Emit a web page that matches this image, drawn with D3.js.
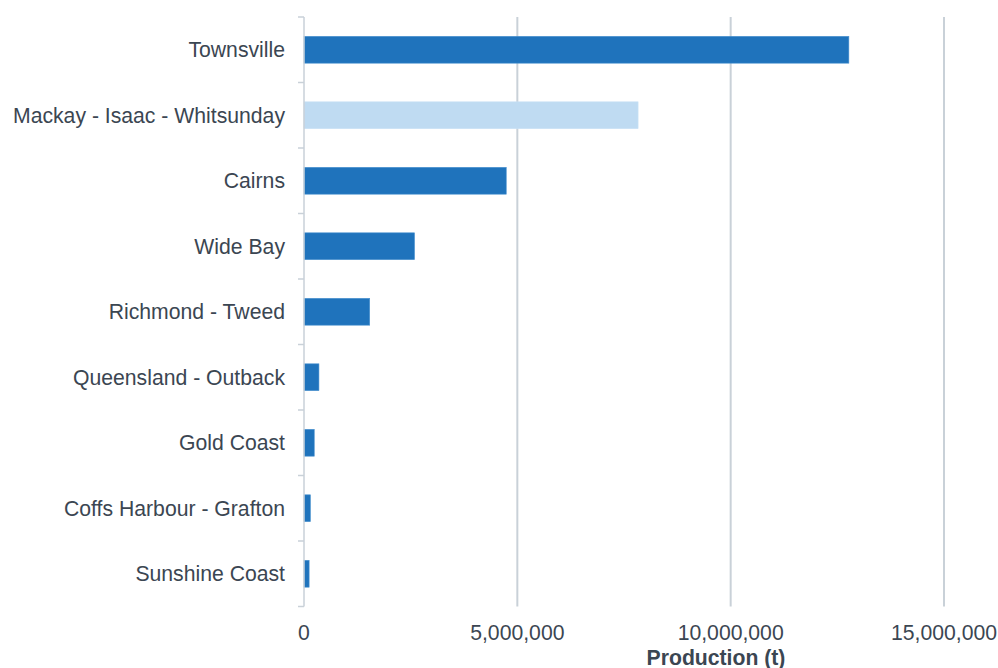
<!DOCTYPE html>
<html>
<head>
<meta charset="utf-8">
<script src="https://cdn.jsdelivr.net/npm/d3@7"></script>
<style>
  body { margin: 0; background: #ffffff; }
  svg { display: block; font-family: "Liberation Sans", Arial, sans-serif; }
</style>
</head>
<body>
<svg id="chart" width="998" height="668"></svg>
<script>
const categories = ["Townsville", "Mackay - Isaac - Whitsunday", "Cairns", "Wide Bay", "Richmond - Tweed",
  "Queensland - Outback", "Gold Coast", "Coffs Harbour - Grafton", "Sunshine Coast"];
const production = [12770000, 7830000, 4740000, 2590000, 1540000, 350000, 240000, 150000, 120000];
const highlighted = ["Mackay - Isaac - Whitsunday"];
const xTicks = [0, 5000000, 10000000, 15000000];
const xTitle = "Production (t)";

(function () {
const svg = d3.select("#chart");
const mLeft = 304, mRight = 944, mTop = 17, mBottom = 606.5;
const textColor = "#3b4652";
const gridColor = "#c9d1d8";
const fs = 21.2;

const x = d3.scaleLinear().domain([0, 15000000]).range([mLeft, mRight]);
const y = d3.scaleBand().domain(categories).range([mTop, mBottom]).paddingInner(0.59).paddingOuter(0.295);

// gridlines
svg.append("g").selectAll("line").data(xTicks.filter(d => d > 0)).join("line")
  .attr("x1", d => x(d)).attr("x2", d => x(d))
  .attr("y1", mTop).attr("y2", mBottom)
  .attr("stroke", gridColor).attr("stroke-width", 2);

// bars
const data = categories.map((c, i) => ({ c, v: production[i] }));
svg.append("g").selectAll("rect").data(data).join("rect")
  .attr("x", x(0))
  .attr("y", d => y(d.c))
  .attr("width", d => x(d.v) - x(0))
  .attr("height", y.bandwidth())
  .attr("fill", d => highlighted.includes(d.c) ? "#bfdbf2" : "#1f73bc")
  .attr("stroke", d => highlighted.includes(d.c) ? "#c9e1f5" : "#4a92d0")
  .attr("stroke-width", 0.6);

// y axis line and band ticks
const yAxis = svg.append("g");
yAxis.append("line").attr("x1", mLeft).attr("x2", mLeft).attr("y1", mTop).attr("y2", mBottom)
  .attr("stroke", gridColor).attr("stroke-width", 1.5);
const boundaries = categories.map(c => y(c) - y.step() * y.paddingOuter()).concat([mBottom]);
yAxis.selectAll("line.tick").data(boundaries).join("line").attr("class", "tick")
  .attr("x1", mLeft - 6).attr("x2", mLeft).attr("y1", d => d).attr("y2", d => d)
  .attr("stroke", gridColor).attr("stroke-width", 1.5);

// category labels
svg.append("g").selectAll("text").data(categories).join("text")
  .attr("x", 285)
  .attr("y", d => y(d) + y.bandwidth() / 2)
  .attr("dy", "0.35em")
  .attr("text-anchor", "end")
  .attr("fill", textColor)
  .attr("font-size", fs)
  .text(d => d);

// x tick labels
const fmt = d3.format(",");
svg.append("g").selectAll("text").data(xTicks).join("text")
  .attr("x", d => x(d))
  .attr("y", 640)
  .attr("text-anchor", "middle")
  .attr("fill", textColor)
  .attr("font-size", fs)
  .text(d => fmt(d));

// x title
svg.append("text")
  .attr("x", 716).attr("y", 665)
  .attr("text-anchor", "middle")
  .attr("fill", textColor)
  .attr("font-size", fs)
  .attr("font-weight", "bold")
  .text(xTitle);
})();
</script>
</body>
</html>
